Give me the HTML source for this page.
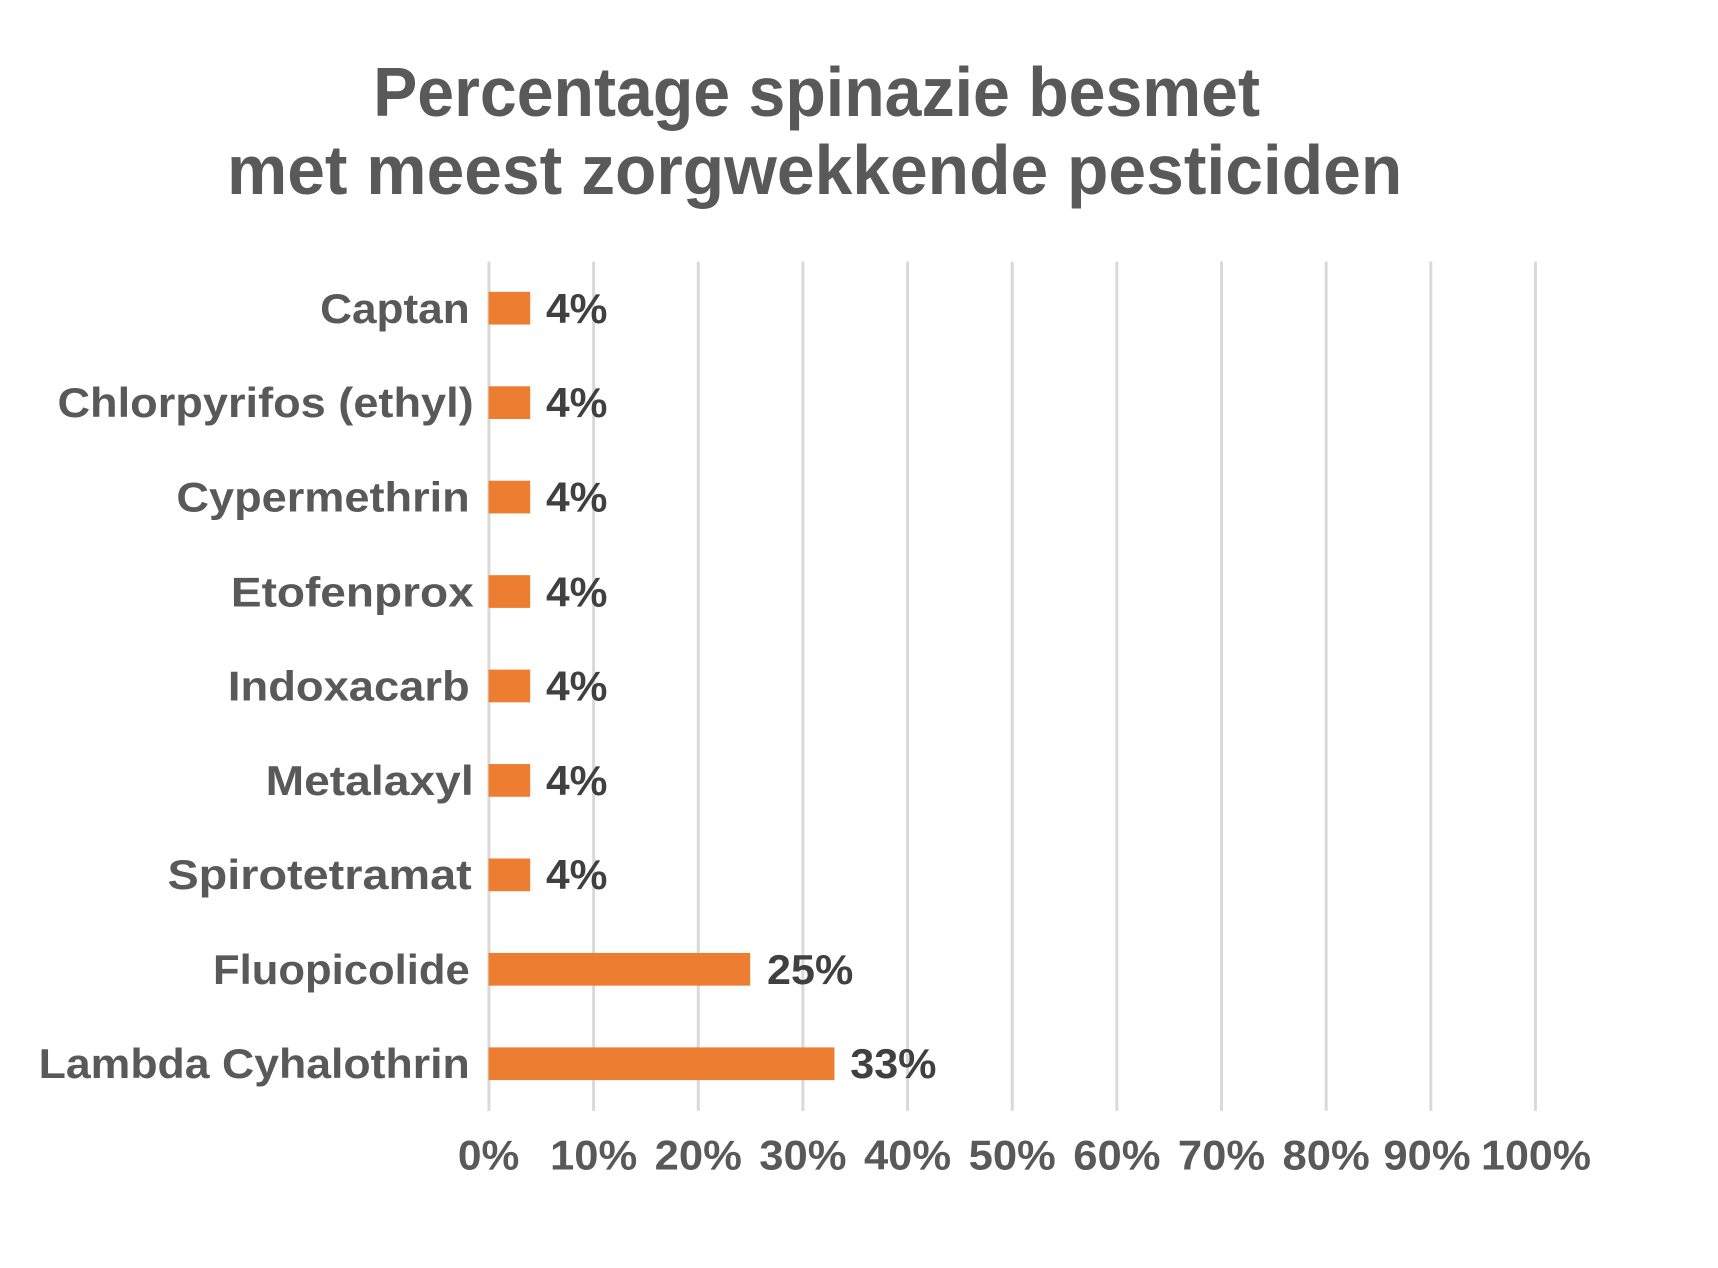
<!DOCTYPE html>
<html><head><meta charset="utf-8"><style>html,body{margin:0;padding:0;background:#fff}svg{display:block}</style></head>
<body>
<svg width="1718" height="1268" viewBox="0 0 1718 1268" xmlns="http://www.w3.org/2000/svg" font-family="'Liberation Sans', sans-serif" font-weight="bold">
<rect width="1718" height="1268" fill="#fff"/>
<g transform="scale(0.991)">
<g fill="#595959" font-size="70" text-anchor="middle">
<text x="824" y="117" textLength="895" lengthAdjust="spacingAndGlyphs">Percentage spinazie besmet</text>
<text x="822" y="196" textLength="1186" lengthAdjust="spacingAndGlyphs">met meest zorgwekkende pesticiden</text>
</g>
<g stroke="#d9d9d9" stroke-width="3">
<line x1="599" y1="264" x2="599" y2="1121"/>
<line x1="704.6" y1="264" x2="704.6" y2="1121"/>
<line x1="810.2" y1="264" x2="810.2" y2="1121"/>
<line x1="915.8" y1="264" x2="915.8" y2="1121"/>
<line x1="1021.4" y1="264" x2="1021.4" y2="1121"/>
<line x1="1127" y1="264" x2="1127" y2="1121"/>
<line x1="1232.6" y1="264" x2="1232.6" y2="1121"/>
<line x1="1338.2" y1="264" x2="1338.2" y2="1121"/>
<line x1="1443.8" y1="264" x2="1443.8" y2="1121"/>
<line x1="1549.4" y1="264" x2="1549.4" y2="1121"/>
<line x1="493.4" y1="264" x2="493.4" y2="1121"/>
</g>
<g fill="#ed7d31">
<rect x="493" y="294.5" width="42" height="33"/>
<rect x="493" y="389.8" width="42" height="33"/>
<rect x="493" y="485.1" width="42" height="33"/>
<rect x="493" y="580.4" width="42" height="33"/>
<rect x="493" y="675.7" width="42" height="33"/>
<rect x="493" y="771" width="42" height="33"/>
<rect x="493" y="866.3" width="42" height="33"/>
<rect x="493" y="961.6" width="264" height="33"/>
<rect x="493" y="1056.9" width="349" height="33"/>
</g>
<g fill="#595959" font-size="42" text-anchor="end">
<text x="474" y="326" textLength="151" lengthAdjust="spacingAndGlyphs">Captan</text>
<text x="478" y="421" textLength="420" lengthAdjust="spacingAndGlyphs">Chlorpyrifos (ethyl)</text>
<text x="474" y="516" textLength="296" lengthAdjust="spacingAndGlyphs">Cypermethrin</text>
<text x="478" y="612" textLength="245" lengthAdjust="spacingAndGlyphs">Etofenprox</text>
<text x="474" y="707" textLength="244" lengthAdjust="spacingAndGlyphs">Indoxacarb</text>
<text x="478" y="802" textLength="210" lengthAdjust="spacingAndGlyphs">Metalaxyl</text>
<text x="476" y="897" textLength="307" lengthAdjust="spacingAndGlyphs">Spirotetramat</text>
<text x="474" y="993" textLength="259" lengthAdjust="spacingAndGlyphs">Fluopicolide</text>
<text x="474" y="1088" textLength="435" lengthAdjust="spacingAndGlyphs">Lambda Cyhalothrin</text>
</g>
<g fill="#404040" font-size="42">
<text x="551" y="326" textLength="62" lengthAdjust="spacingAndGlyphs">4%</text>
<text x="551" y="421" textLength="62" lengthAdjust="spacingAndGlyphs">4%</text>
<text x="551" y="516" textLength="62" lengthAdjust="spacingAndGlyphs">4%</text>
<text x="551" y="612" textLength="62" lengthAdjust="spacingAndGlyphs">4%</text>
<text x="551" y="707" textLength="62" lengthAdjust="spacingAndGlyphs">4%</text>
<text x="551" y="802" textLength="62" lengthAdjust="spacingAndGlyphs">4%</text>
<text x="551" y="897" textLength="62" lengthAdjust="spacingAndGlyphs">4%</text>
<text x="774" y="993" textLength="87" lengthAdjust="spacingAndGlyphs">25%</text>
<text x="858" y="1088" textLength="87" lengthAdjust="spacingAndGlyphs">33%</text>
</g>
<g fill="#595959" font-size="42" text-anchor="middle">
<text x="493" y="1180" textLength="62" lengthAdjust="spacingAndGlyphs">0%</text>
<text x="599" y="1180" textLength="88" lengthAdjust="spacingAndGlyphs">10%</text>
<text x="704.6" y="1180" textLength="88" lengthAdjust="spacingAndGlyphs">20%</text>
<text x="810.2" y="1180" textLength="88" lengthAdjust="spacingAndGlyphs">30%</text>
<text x="915.8" y="1180" textLength="88" lengthAdjust="spacingAndGlyphs">40%</text>
<text x="1021.4" y="1180" textLength="88" lengthAdjust="spacingAndGlyphs">50%</text>
<text x="1127" y="1180" textLength="88" lengthAdjust="spacingAndGlyphs">60%</text>
<text x="1232.6" y="1180" textLength="88" lengthAdjust="spacingAndGlyphs">70%</text>
<text x="1338.2" y="1180" textLength="88" lengthAdjust="spacingAndGlyphs">80%</text>
<text x="1440" y="1180" textLength="88" lengthAdjust="spacingAndGlyphs">90%</text>
<text x="1550" y="1180" textLength="111" lengthAdjust="spacingAndGlyphs">100%</text>
</g>
</g>
</svg>
</body></html>
